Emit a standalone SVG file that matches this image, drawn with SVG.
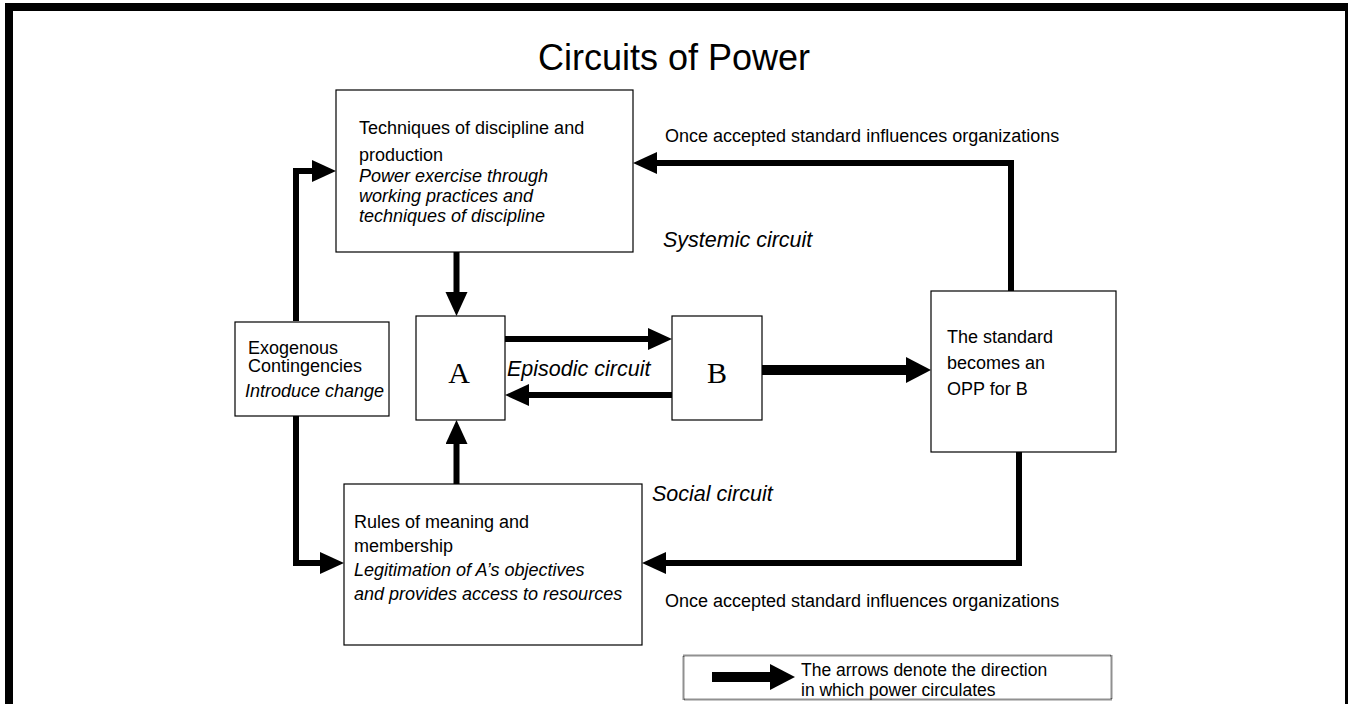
<svg xmlns="http://www.w3.org/2000/svg" width="1348" height="704" viewBox="0 0 1348 704">
<style>
.t{font-family:"Liberation Sans",Arial,sans-serif;font-size:18px;fill:#000}
.i{font-style:italic}
.c{font-family:"Liberation Sans",Arial,sans-serif;font-size:21.5px;font-style:italic;fill:#000}
.box{fill:#fff;stroke:#000;stroke-width:1.2}
.ln{fill:none;stroke:#000;stroke-width:6}
.thick{fill:none;stroke:#000;stroke-width:10}
</style>
<defs>
<marker id="ah" markerUnits="userSpaceOnUse" markerWidth="26" markerHeight="24" refX="0" refY="11" orient="auto"><path d="M0,0 L24,11 L0,22 z" fill="#000"/></marker>
<marker id="ahb" markerUnits="userSpaceOnUse" markerWidth="26" markerHeight="28" refX="0" refY="13" orient="auto"><path d="M0,0 L25,13 L0,26 z" fill="#000"/></marker>
</defs>
<rect x="0" y="0" width="1348" height="704" fill="#fff"/>
<g id="frame">
<rect x="5" y="3" width="1343" height="8" fill="#000"/>
<rect x="5" y="3" width="8" height="701" fill="#000"/>
<rect x="1345" y="3" width="3" height="701" fill="#000"/>
</g>
<text x="674" y="70" text-anchor="middle" font-family="Liberation Sans,Arial,sans-serif" font-size="36">Circuits of Power</text>
<g id="connectors">
<path class="ln" d="M296,321 V171 H312" marker-end="url(#ah)"/>
<path class="ln" d="M296,416 V563 H320" marker-end="url(#ah)"/>
<path class="ln" d="M456.5,252 V292" marker-end="url(#ah)"/>
<path class="ln" d="M456.5,484 V444" marker-end="url(#ah)"/>
<path class="ln" d="M505,339 H648" marker-end="url(#ah)"/>
<path class="ln" d="M672,395 H529" marker-end="url(#ah)"/>
<path class="thick" d="M762,370 H906" marker-end="url(#ahb)"/>
<path class="ln" d="M1011,291 V163 H657" marker-end="url(#ah)"/>
<path class="ln" d="M1019,452 V563 H666" marker-end="url(#ah)"/>
</g>
<g id="techniques">
<rect class="box" x="336" y="90" width="297" height="162"/>
<text class="t" x="359" y="134">Techniques of discipline and</text>
<text class="t" x="359" y="161">production</text>
<text class="t i" x="359" y="182">Power exercise through</text>
<text class="t i" x="359" y="202">working practices and</text>
<text class="t i" x="359" y="222">techniques of discipline</text>
</g>
<g id="exogenous">
<rect class="box" x="235" y="322" width="154" height="94"/>
<text class="t" x="248" y="354">Exogenous</text>
<text class="t" x="248" y="372">Contingencies</text>
<text class="t i" x="245" y="397">Introduce change</text>
</g>
<g id="nodeA">
<rect class="box" x="416" y="316" width="89" height="104"/>
<text x="459" y="383" text-anchor="middle" font-family="Liberation Serif,Times New Roman,serif" font-size="30">A</text>
</g>
<g id="nodeB">
<rect class="box" x="672" y="316" width="90" height="104"/>
<text x="717" y="383" text-anchor="middle" font-family="Liberation Serif,Times New Roman,serif" font-size="30">B</text>
</g>
<g id="standard">
<rect class="box" x="931" y="291" width="185" height="161"/>
<text class="t" x="947" y="343">The standard</text>
<text class="t" x="947" y="369">becomes an</text>
<text class="t" x="947" y="395">OPP for B</text>
</g>
<g id="rules">
<rect class="box" x="344" y="484" width="298" height="161"/>
<text class="t" x="354" y="528">Rules of meaning and</text>
<text class="t" x="354" y="552">membership</text>
<text class="t i" x="354" y="576">Legitimation of A’s objectives</text>
<text class="t i" x="354" y="600">and provides access to resources</text>
</g>
<g id="labels">
<text class="t" x="665" y="142">Once accepted standard influences organizations</text>
<text class="t" x="665" y="607">Once accepted standard influences organizations</text>
<text class="c" x="663" y="247">Systemic circuit</text>
<text class="c" x="507" y="376">Episodic circuit</text>
<text class="c" x="652" y="501">Social circuit</text>
</g>
<g id="legend">
<rect x="683.5" y="655.5" width="428" height="44" fill="#fff" stroke="#222" stroke-width="2" stroke-dasharray="1 1"/>
<path class="thick" d="M712,677 H770" marker-end="url(#ahb)"/>
<text x="801" y="676" font-family="Liberation Sans,Arial,sans-serif" font-size="17.5">The arrows denote the direction</text>
<text x="801" y="695.5" font-family="Liberation Sans,Arial,sans-serif" font-size="17.5">in which power circulates</text>
</g>
</svg>
